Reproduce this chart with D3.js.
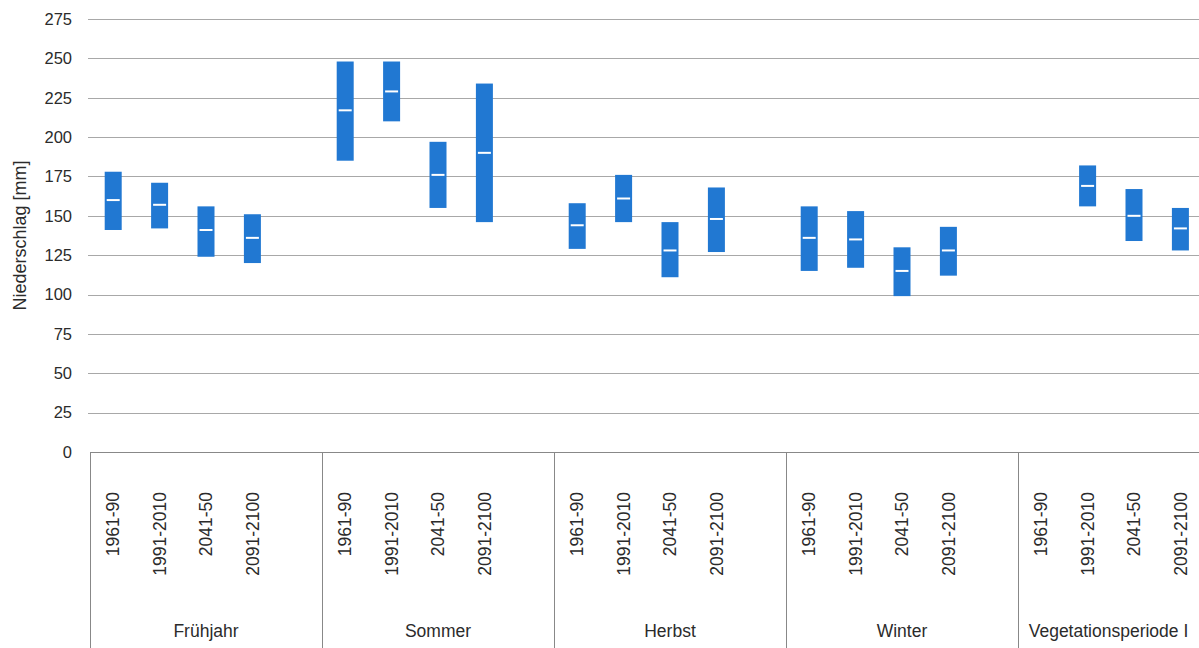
<!DOCTYPE html>
<html>
<head>
<meta charset="utf-8">
<script src="https://cdn.jsdelivr.net/npm/d3@7"></script>
<style>
  body { margin: 0; background: #fff; }
  text { font-family: "Liberation Sans", Arial, sans-serif; fill: #2b2b2b; }
</style>
</head>
<body>
<div id="chart"></div>
<script>
// seasons and periods
let groups = ['Frühjahr', 'Sommer', 'Herbst', 'Winter', 'Vegetationsperiode I'];
let periods = ['1961-90', '1991-2010', '2041-50', '2091-2100'];

// precipitation range per season and period (mm), null = no bar
let lowVals = [
    [141, 142, 124, 120],
    [185, 210, 155, 146],
    [129, 146, 111, 127],
    [115, 117, 99, 112],
    [null, 156, 134, 128]
];
let midVals = [
    [160, 157, 141, 136],
    [217, 229, 176, 190],
    [144, 161, 128, 148],
    [136, 135, 115, 128],
    [null, 169, 150, 142]
];
let highVals = [
    [178, 171, 156, 151],
    [248, 248, 197, 234],
    [158, 176, 146, 168],
    [156, 153, 130, 143],
    [null, 182, 167, 155]
];
let yTicks = [0, 25, 50, 75, 100, 125, 150, 175, 200, 225, 250, 275];

//svg size
let svgWidth = 1199;
let svgHeight = 648;

let chartMargin = {top: 19, left: 90, bottom: 196};
let groupWidth = 232;
let plotBottom = svgHeight - chartMargin.bottom;

let svg = d3.select('#chart')
            .append('svg')
            .attr('width', svgWidth)
            .attr('height', svgHeight);

//scales
let yScale = d3.scaleLinear()
               .domain([0, 275])
               .range([plotBottom, chartMargin.top]);

let groupScale = d3.scaleBand()
                   .domain(groups)
                   .range([chartMargin.left, chartMargin.left + groupWidth * groups.length]);

// each group has 5 slots, the last one stays empty
let periodScale = d3.scaleBand()
                    .domain(periods)
                    .range([0, groupWidth * 4 / 5]);

//gridlines
svg.append('g')
   .selectAll('line')
   .data(yTicks.filter(d => d > 0))
   .enter()
   .append('line')
   .attr('x1', chartMargin.left - 2)
   .attr('x2', svgWidth)
   .attr('y1', d => Math.round(yScale(d)) + 0.5)
   .attr('y2', d => Math.round(yScale(d)) + 0.5)
   .attr('stroke', '#a8a8a8')
   .attr('stroke-width', 1);

//y axis labels
let yAxis = d3.axisLeft(yScale).tickValues(yTicks).tickSize(0).tickPadding(0);
let yAxisG = svg.append('g')
                .attr('transform', `translate(72, 0)`)
                .call(yAxis);
yAxisG.select('.domain').remove();
yAxisG.selectAll('text')
      .style('font-size', '16.5px')
      .style('font-family', '"Liberation Sans", Arial, sans-serif')
      .attr('fill', '#2b2b2b');

//bottom axis line and group separators
svg.append('line')
   .attr('x1', chartMargin.left)
   .attr('x2', svgWidth)
   .attr('y1', plotBottom + 0.5)
   .attr('y2', plotBottom + 0.5)
   .attr('stroke', '#888');

svg.append('g')
   .selectAll('line')
   .data(groups)
   .enter()
   .append('line')
   .attr('x1', d => Math.round(groupScale(d)) + 0.5)
   .attr('x2', d => Math.round(groupScale(d)) + 0.5)
   .attr('y1', plotBottom)
   .attr('y2', svgHeight)
   .attr('stroke', '#888');

//bars
let barWidth = 17;
let bars = [];
groups.forEach((g, i) => {
    periods.forEach((p, j) => {
        if (lowVals[i][j] == null) return;
        bars.push({group: g, period: p, low: lowVals[i][j], mid: midVals[i][j], high: highVals[i][j]});
    });
});

let barX = d => groupScale(d.group) + periodScale(d.period) + periodScale.bandwidth() / 2 - barWidth / 2;

svg.append('g')
   .selectAll('rect')
   .data(bars)
   .enter()
   .append('rect')
   .attr('x', barX)
   .attr('y', d => yScale(d.high))
   .attr('width', barWidth)
   .attr('height', d => yScale(d.low) - yScale(d.high))
   .attr('fill', '#2178d2');

//median marks
svg.append('g')
   .selectAll('line')
   .data(bars)
   .enter()
   .append('line')
   .attr('x1', d => barX(d) + 2)
   .attr('x2', d => barX(d) + barWidth - 2)
   .attr('y1', d => yScale(d.mid))
   .attr('y2', d => yScale(d.mid))
   .attr('stroke', '#fff')
   .attr('stroke-width', 2);

//period labels, rotated
groups.forEach(g => {
    svg.append('g')
       .selectAll('text')
       .data(periods)
       .enter()
       .append('text')
       .attr('transform', p => `translate(${groupScale(g) + periodScale(p) + periodScale.bandwidth() / 2}, 492) rotate(-90)`)
       .attr('text-anchor', 'end')
       .attr('dy', '0.35em')
       .style('font-size', '17.5px')
       .text(p => p);
});

//group labels, centred on the visible part of each group
svg.append('g')
   .selectAll('text')
   .data(groups)
   .enter()
   .append('text')
   .attr('x', g => {
       let x0 = groupScale(g);
       let x1 = Math.min(x0 + groupScale.bandwidth(), svgWidth);
       return (x0 + x1) / 2;
   })
   .attr('y', 637)
   .attr('text-anchor', 'middle')
   .style('font-size', '17.5px')
   .text(g => g);

//y axis title
svg.append('text')
   .attr('transform', `translate(26, ${(chartMargin.top + plotBottom) / 2}) rotate(-90)`)
   .attr('text-anchor', 'middle')
   .style('font-size', '18px')
   .text('Niederschlag [mm]');
</script>
</body>
</html>
